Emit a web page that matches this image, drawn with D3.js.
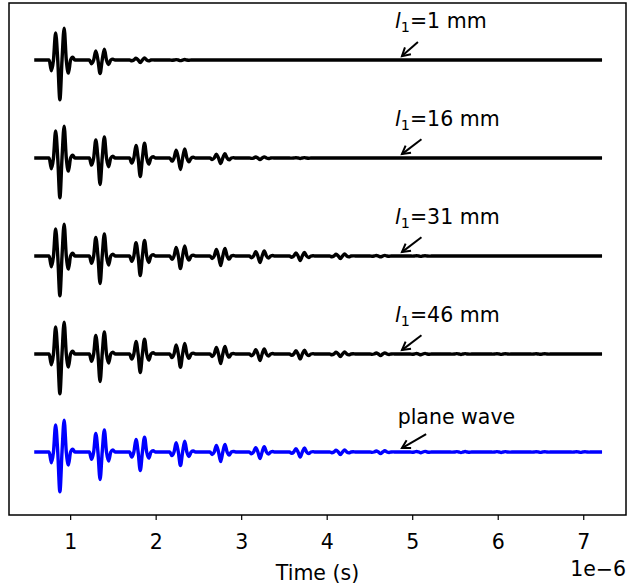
<!DOCTYPE html>
<html>
<head>
<meta charset="utf-8">
<script src="https://cdn.jsdelivr.net/npm/d3@7"></script>
<style>
  html, body { margin: 0; padding: 0; background: #fff; }
  text { font-family: "DejaVu Sans", sans-serif; }
</style>
</head>
<body>
<div id="chart"></div>
<script>
// time axis in microseconds (offset label 1e-6)
var timeStart = 0.6;
var timeEnd = 7.2;
var xTicks = [1, 2, 3, 4, 5, 6, 7];

// arrival time of each echo (centre of the big negative swing)
var pulseTimes = [0.88, 1.35, 1.82, 2.29, 2.76, 3.22, 3.69, 4.16, 4.63, 5.10, 5.57, 6.04, 6.50, 6.97];

// shape of one echo (offset from centre, normalised value)
var shapeOffsets = [-0.125, -0.1, -0.075, -0.05, -0.025, 0, 0.025, 0.05, 0.075, 0.1, 0.125, 0.15, 0.175];
var shapeValues  = [0, -0.27, 0, 0.68, 0, -1, 0, 0.8, 0, -0.33, 0, 0.07, 0];

// echo amplitudes per trace (trace spacing = 1)
var amp1mm  = [0.405, 0.138, 0.026, 0.006];
var amp16mm = [0.405, 0.27, 0.19, 0.117, 0.056, 0.015, 0.005];
var amp31mm = [0.405, 0.28, 0.2, 0.128, 0.097, 0.066, 0.046, 0.026, 0.008, 0.004];
var amp46mm = [0.405, 0.28, 0.19, 0.135, 0.097, 0.066, 0.05, 0.026, 0.015, 0.008, 0.005, 0.004, 0.003];
var ampPlane = [0.405, 0.28, 0.19, 0.138, 0.097, 0.066, 0.051, 0.026, 0.015, 0.008, 0.006, 0.005, 0.004, 0.004];

var traceAmps = [amp1mm, amp16mm, amp31mm, amp46mm, ampPlane];
var traceOffsets = [0, -1, -2, -3, -4];
var traceColours = ["#000000", "#000000", "#000000", "#000000", "#0000ff"];

// annotations
var annoLength = ["1 mm", "16 mm", "31 mm", "46 mm", null];  // null -> plain text
var annoPlain = "plane wave";
var annoTextX = [4.8, 4.8, 4.8, 4.8, 4.83];
var annoTextDy = [0.33, 0.33, 0.33, 0.33, 0.29];
var annoTipX = 4.88;
var annoTipDy = 0.04;

var width = 628, height = 586;
var margin = {left: 9, right: 2, top: 3, bottom: 71};
var fontSize = 20.5;

var svg = d3.select("#chart").append("svg")
  .attr("width", width)
  .attr("height", height);

var x = d3.scaleLinear()
  .domain([0.285, 7.5])
  .range([margin.left, width - margin.right]);

var y = d3.scaleLinear()
  .domain([-4.643, 0.582])
  .range([height - margin.bottom, margin.top]);

// build the trace points from echo times and amplitudes
function tracePoints(amps, offset) {
  var pts = [[timeStart, offset]];
  for (var k = 0; k < pulseTimes.length; k++) {
    var a = amps[k] || 0;
    if (a <= 0) continue;
    for (var j = 0; j < shapeOffsets.length; j++) {
      pts.push([pulseTimes[k] + shapeOffsets[j], offset + a * shapeValues[j]]);
    }
  }
  pts.push([timeEnd, offset]);
  return pts;
}

var line = d3.line()
  .x(function(d) { return x(d[0]); })
  .y(function(d) { return y(d[1]); })
  .curve(d3.curveMonotoneX);

var traces = svg.append("g").attr("id", "traces");
traces.selectAll("path")
  .data(traceAmps)
  .enter()
  .append("path")
  .attr("d", function(d, i) { return line(tracePoints(d, traceOffsets[i])); })
  .style("fill", "none")
  .style("stroke", function(d, i) { return traceColours[i]; })
  .style("stroke-width", 3.4)
  .style("stroke-linecap", "square")
  .style("stroke-linejoin", "round");

// annotations with arrows
var annoLayer = svg.append("g").attr("id", "annotations");
for (var i = 0; i < traceOffsets.length; i++) {
  var tx = x(annoTextX[i]);
  var ty = y(traceOffsets[i] + annoTextDy[i]);
  var t = annoLayer.append("text")
    .attr("x", tx)
    .attr("y", ty)
    .style("font-size", fontSize + "px");
  if (annoLength[i]) {
    t.append("tspan").style("font-style", "italic").text("l");
    t.append("tspan").attr("dy", 4).style("font-size", (fontSize * 0.7) + "px").text("1");
    t.append("tspan").attr("dy", -4).text("=" + annoLength[i]);
  } else {
    t.text(annoPlain);
  }

  var bb = t.node().getBBox();
  var cx = bb.x + bb.width / 2, cy = bb.y + bb.height / 2;
  var px = x(annoTipX), py = y(traceOffsets[i] + annoTipDy);
  var dx = px - cx, dy = py - cy;
  var len = Math.sqrt(dx * dx + dy * dy);
  var ux = dx / len, uy = dy / len;
  var sx = dx < 0 ? (bb.x - cx) / dx : (bb.x + bb.width - cx) / dx;
  var sy = dy < 0 ? (bb.y - cy) / dy : (bb.y + bb.height - cy) / dy;
  var s = Math.min(sx, sy);
  var gap = 11;
  var ax = cx + s * dx + gap * ux, ay = cy + s * dy + gap * uy;

  annoLayer.append("line")
    .attr("x1", ax).attr("y1", ay)
    .attr("x2", px).attr("y2", py)
    .style("stroke", "#000")
    .style("stroke-width", 2);

  // "->" head
  var hl = 8, hw = 4.5;
  var bx = px - hl * ux, by = py - hl * uy;
  var head = [
    [bx - hw * uy, by + hw * ux],
    [px, py],
    [bx + hw * uy, by - hw * ux]
  ];
  annoLayer.append("path")
    .attr("d", d3.line()(head))
    .style("fill", "none")
    .style("stroke", "#000")
    .style("stroke-width", 2)
    .style("stroke-linejoin", "miter");
}

// frame
svg.append("rect")
  .attr("x", margin.left)
  .attr("y", margin.top)
  .attr("width", width - margin.left - margin.right)
  .attr("height", height - margin.top - margin.bottom)
  .style("fill", "none")
  .style("stroke", "#000")
  .style("stroke-width", 1.5);

// x axis
var xAxis = d3.axisBottom(x)
  .tickValues(xTicks)
  .tickSize(5)
  .tickPadding(14)
  .tickFormat(d3.format("d"));

var xAxisG = svg.append("g")
  .attr("id", "xAxis")
  .attr("transform", "translate(0," + (height - margin.bottom) + ")")
  .call(xAxis);
xAxisG.select(".domain").remove();
xAxisG.selectAll(".tick line").style("stroke", "#000").style("stroke-width", 1.2);
xAxisG.selectAll(".tick text")
  .style("font-size", fontSize + "px")
  .style("font-family", "DejaVu Sans")
  .attr("fill", "#000");

svg.append("text")
  .attr("x", (margin.left + width - margin.right) / 2)
  .attr("y", 580)
  .attr("text-anchor", "middle")
  .style("font-size", fontSize + "px")
  .text("Time (s)");

svg.append("text")
  .attr("x", width - margin.right)
  .attr("y", 576)
  .attr("text-anchor", "end")
  .style("font-size", fontSize + "px")
  .text("1e\u22126");
</script>
</body>
</html>
